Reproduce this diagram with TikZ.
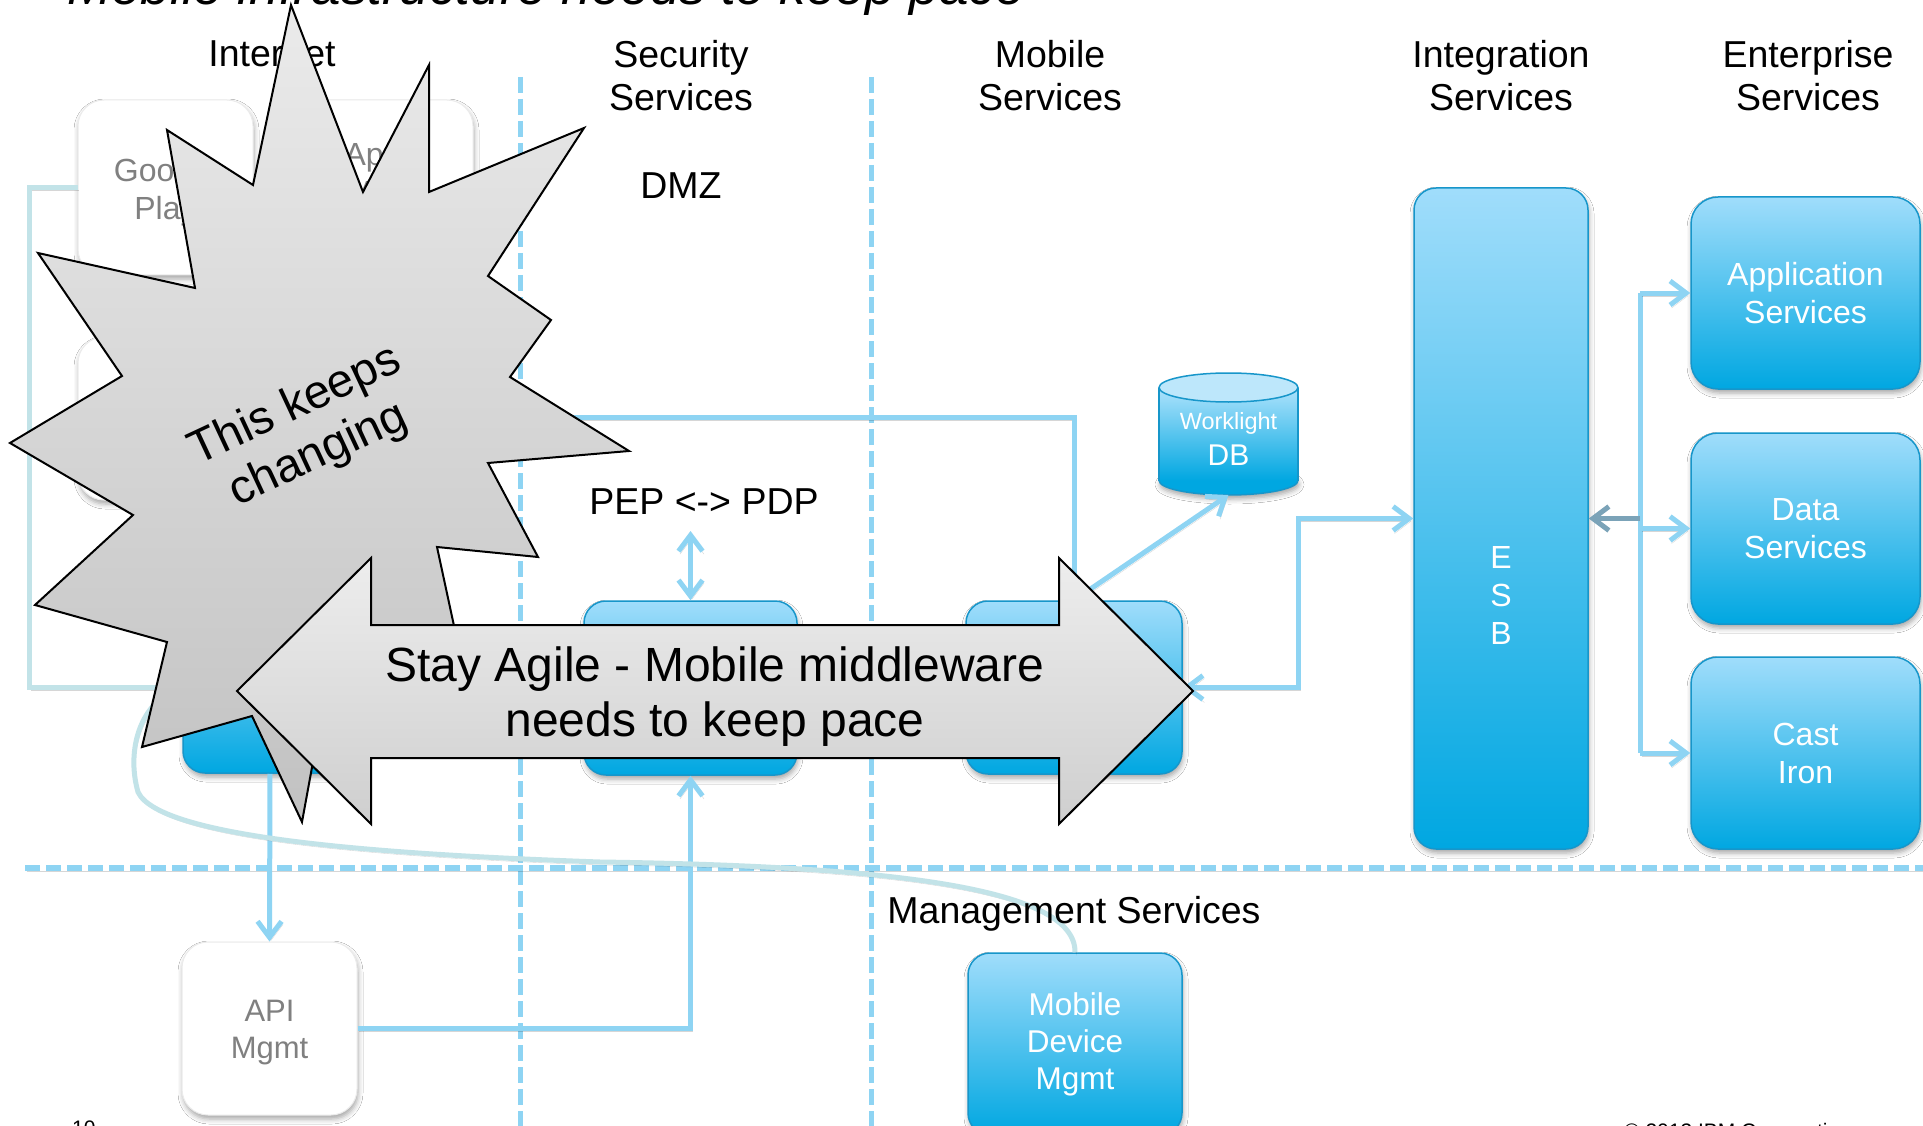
\documentclass[tikz,border=0pt]{standalone}
\usepackage{fontspec}
\setmainfont{Liberation Sans}
\usetikzlibrary{arrows.meta,shadows.blur,calc}

\definecolor{sky}{HTML}{8ED4F3}
\definecolor{paleteal}{HTML}{C2E3E8}
\definecolor{boxtop}{HTML}{A0DDFB}
\definecolor{boxbot}{HTML}{00A7E1}
\definecolor{boxline}{HTML}{1796CA}
\definecolor{labelgray}{HTML}{808080}
\definecolor{esbarrow}{HTML}{7BA3B8}
\definecolor{dbtop}{HTML}{BDE7FB}

\begin{document}
\begin{tikzpicture}[x=1pt,y=-1pt,
  softshadow/.style={blur shadow={shadow xshift=1pt, shadow yshift=-4pt, shadow blur radius=5pt, shadow opacity=35}},
  lshadow/.style={preaction={draw=black, draw opacity=0.16, transform canvas={xshift=1.5pt, yshift=-3pt}}},
  bluebox/.style={draw=boxline, line width=1.5pt, top color=boxtop, bottom color=boxbot,
    rounded corners=22pt, inner sep=0pt, softshadow},
  whitebox/.style={draw=black!8, line width=1pt, fill=white, rounded corners=26pt,
    inner sep=0pt, softshadow},
  graytext/.style={text=labelgray, align=center, inner sep=0pt, font=\fontsize{32}{38}\selectfont},
  boxtext/.style={text=white, align=center, inner sep=0pt, font=\fontsize{32}{38}\selectfont},
  hdr/.style={align=center, inner sep=0pt, font=\fontsize{37.5}{43}\selectfont},
  sepv/.style={draw=sky, line width=5pt, dash pattern=on 16pt off 6pt},
  seph/.style={draw=sky, line width=6pt, dash pattern=on 15pt off 6pt, lshadow},
  link/.style={draw=sky, line width=5pt, line join=miter, lshadow},
  tealink/.style={draw=paleteal, line width=5pt, line join=miter, lshadow},
  barb/.style={-{Straight Barb[length=16pt,width=24pt]}},
  dbarb/.style={{Straight Barb[length=16pt,width=24pt]}-{Straight Barb[length=16pt,width=24pt]}},
  callout/.style={draw=black, line width=2pt, line join=miter},
]
\useasboundingbox (0,0) rectangle (1923,1126);
\fill[white] (0,0) rectangle (1923,1126);

% ---------- title and column headings ----------
\node[anchor=base west, inner sep=0pt, font=\fontsize{53}{60}\selectfont\itshape] (title) at (67,5)
  {Mobile infrastructure needs to keep pace};
\node[hdr, anchor=base] (hinternet) at (272,67) {Internet};
\node[hdr] (hsecurity) at (681,76) {Security\\Services};
\node[hdr] (hmobile) at (1050,76) {Mobile\\Services};
\node[hdr] (hintegration) at (1501,76) {Integration\\Services};
\node[hdr] (henterprise) at (1808,76) {Enterprise\\Services};

% ---------- zone separators ----------
\draw[sepv] (520,77) -- (520,1126);
\draw[sepv] (871,77) -- (871,1126);
\draw[seph] (25,868) -- (1923,868);

% ---------- internet column ----------
\node[whitebox, minimum width=175pt, minimum height=175pt] (gplay) at (165.5,187.5) {};
\node[graytext] (gplaytxt) at (165.5,192) {Google\\Play};
\node[whitebox, minimum width=175pt, minimum height=175pt] (apple) at (385.5,187.5) {};
\node[graytext] (appletxt) at (385.5,192) {Apple\\App\\Store};
\node[whitebox, minimum width=175pt, minimum height=163pt] (store3) at (165.5,418.5) {};
\node[bluebox, minimum width=174pt, minimum height=172pt] (client) at (270,687) {};

\draw[tealink] (gplay.west) -- ++(-48,0) |- (client.west);

% ---------- security / mobile / integration ----------
\node[bluebox, minimum width=213pt, minimum height=174pt] (gateway) at (690.5,688) {};
\node[bluebox, minimum width=216pt, minimum height=173pt] (worklight) at (1074,687.5) {};
\node[bluebox, minimum width=174pt, minimum height=661pt] (esb) at (1501,518.5) {};
\node[boxtext] (esbtxt) at (1501,595.5) {E\\S\\B};

% Worklight DB cylinder
\fill[boxbot, softshadow] (1228.5,480.5) ellipse [x radius=69.5pt, y radius=14.5pt];
\draw[boxline, line width=1.5pt] (1228.5,480.5) ellipse [x radius=69.5pt, y radius=14.5pt];
\shade[top color=boxtop!85!white, bottom color=boxbot] (1159,387.5) rectangle (1298,480.5);
\draw[boxline, line width=1.5pt] (1159,387.5) -- (1159,480.5) (1298,387.5) -- (1298,480.5);
\draw[boxline, line width=1.5pt, fill=dbtop] (1228.5,387.5) ellipse [x radius=69.5pt, y radius=14.5pt];
\coordinate (dbbase) at (1228.5,495);
\node[anchor=base, inner sep=0pt, text=white, font=\fontsize{23.5}{28}\selectfont] (dbname) at (1228.5,429) {Worklight};
\node[anchor=base, inner sep=0pt, text=white, font=\fontsize{30}{34}\selectfont] (dbtag) at (1228.5,465) {DB};

% ---------- enterprise column ----------
\node[bluebox, boxtext, rounded corners=27pt, minimum width=229pt, minimum height=192pt] (appsvc) at (1805.5,293) {Application\\Services};
\node[bluebox, boxtext, rounded corners=27pt, minimum width=229pt, minimum height=191pt] (datasvc) at (1805.5,528.5) {Data\\Services};
\node[bluebox, boxtext, rounded corners=27pt, minimum width=229pt, minimum height=192pt] (castiron) at (1805.5,753) {Cast\\Iron};

% ---------- management zone ----------
\node[whitebox, minimum width=175pt, minimum height=173pt] (apimgmt) at (269.5,1028.5) {};
\node[graytext, font=\fontsize{31}{37}\selectfont] (apitxt) at (269.5,1033) {API\\Mgmt};
\node[bluebox, boxtext, minimum width=214pt, minimum height=182pt, font=\fontsize{31.5}{37}\selectfont] (mdm) at (1075,1044) {Mobile\\Device\\Mgmt};

% ---------- connectors ----------
\coordinate (feed) at (440,417);
\draw[link] (feed) -| (worklight.north);
\draw[link, barb] (worklight.north) -- (dbbase);
\coordinate (pdp) at (690.5,531);
\draw[link, dbarb] (gateway.north) -- (pdp);
\draw[link, barb] (apimgmt.east) -| (gateway.south);
\draw[link, barb] (client.south) -- (apimgmt.north);
\draw[link, dbarb] (worklight.east) -- ++(116,0) |- (esb.west);

\coordinate (trunktop) at (1640,293);
\coordinate (trunkbot) at (1640,753);
\draw[link] (trunktop) -- (trunkbot);
\draw[link, barb] (trunktop) -- (appsvc.west);
\draw[link, barb] (1640,528.5) -- (datasvc.west);
\draw[link, barb] (trunkbot) -- (castiron.west);
\draw[draw=esbarrow, line width=5pt, barb] (1640,518.5) -- (esb.east);

% management link from the client tier
\draw[tealink] (client.west) .. controls (140,700) and (126,750) .. (138,792)
  .. controls (160,840) and (400,855) .. (600,862)
  .. controls (880,866) and (1076,886) .. (mdm.north);

% ---------- zone labels ----------
\node[hdr, anchor=base] (dmz) at (681,199) {DMZ};
\node[hdr, anchor=base] (pep) at (704,514) {PEP <-> PDP};
\node[hdr, anchor=base] (mgmt) at (1074,923) {Management Services};

% ---------- starburst callout ----------
\path[callout, top color=black!8, bottom color=black!24]
  (291,5) -- (363,192) -- (429,65) -- (429,192) -- (584,128) -- (488,276)
  -- (551,320) -- (510,377) -- (629,451) -- (488,463) -- (538,557) -- (437,547)
  -- (470,700) -- (317,740) -- (302,822) -- (252,716) -- (142,747) -- (167,642)
  -- (35,605) -- (133,515) -- (10,443) -- (122,376) -- (38,253) -- (195,288)
  -- (167,130) -- (253,185) -- cycle;
\node[rotate=25, align=center, inner sep=0pt, font=\fontsize{47}{54}\selectfont] (burst) at (307,431)
  {This keeps\\changing};

% ---------- double block arrow ----------
\path[callout, top color=black!7, bottom color=black!19]
  (237,691) -- (371,558) -- (371,625) -- (1059,625) -- (1059,558) -- (1193,691)
  -- (1059,824) -- (1059,758) -- (371,758) -- (371,824) -- cycle;
\node[align=center, inner sep=0pt, font=\fontsize{48}{55}\selectfont] (agile) at (715,697)
  {Stay Agile - Mobile middleware\\needs to keep pace};

% ---------- footer ----------
\node[anchor=base west, inner sep=0pt, font=\fontsize{21}{25}\selectfont] (pageno) at (72,1135) {10};
\node[anchor=base west, inner sep=0pt, font=\fontsize{21}{25}\selectfont] (copyright) at (1624,1138) {© 2013 IBM Corporation};
\end{tikzpicture}
\end{document}
